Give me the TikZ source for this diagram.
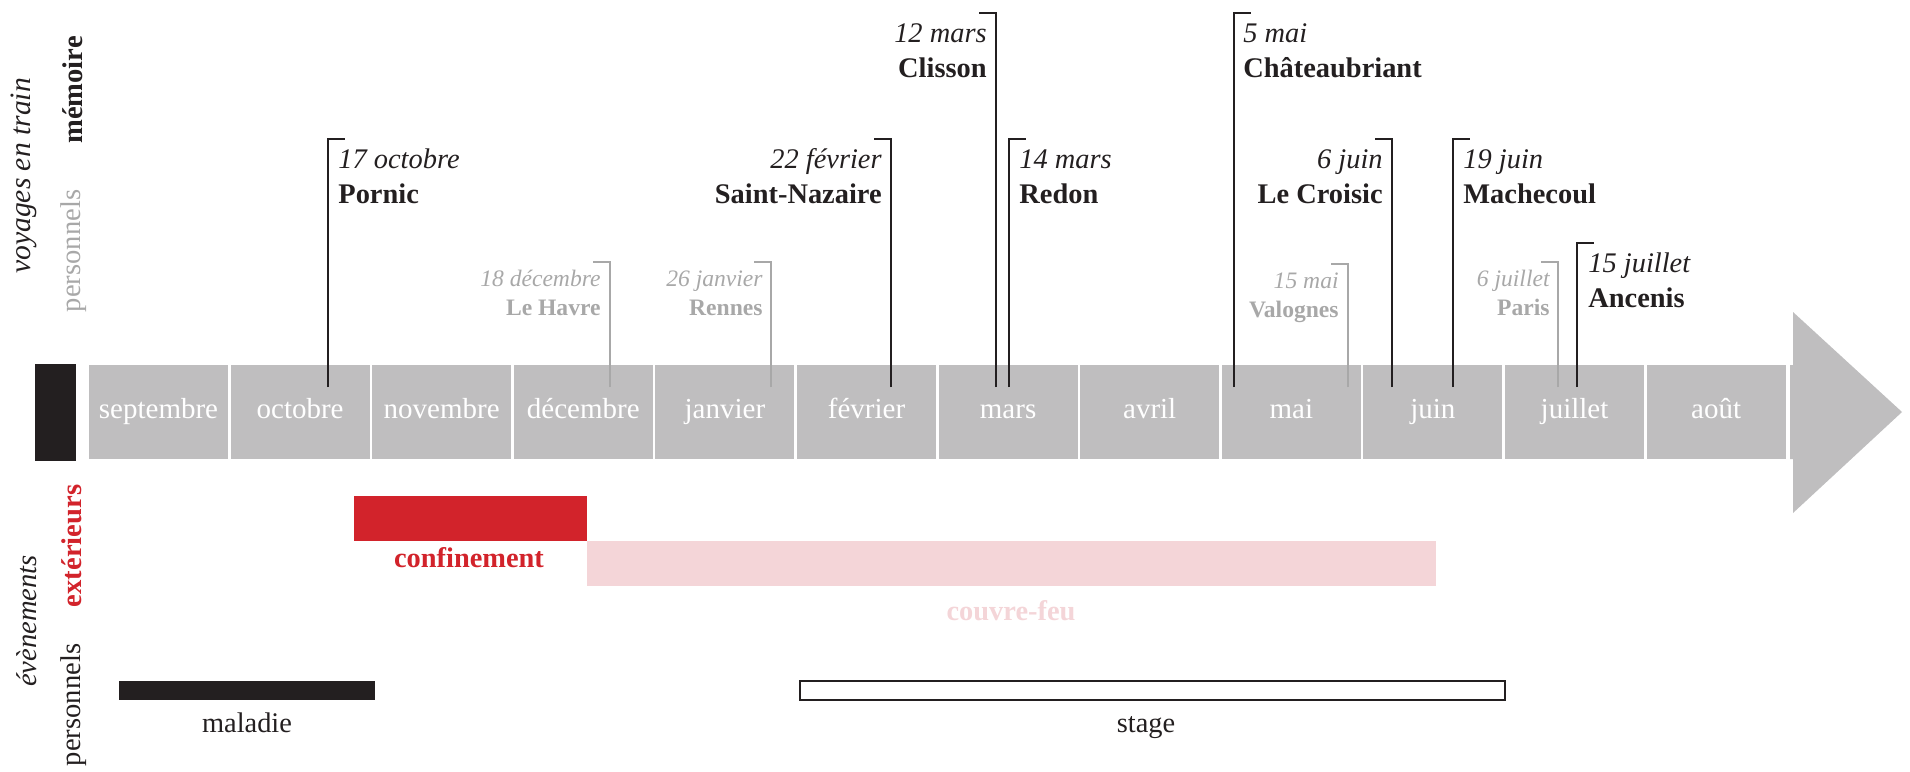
\documentclass[tikz,border=0pt]{standalone}
\usepackage{fontspec}
\setmainfont{Liberation Serif}
\definecolor{barGray}{HTML}{BFBEBF}
\definecolor{inkBlack}{HTML}{231F20}
\definecolor{softGray}{HTML}{A8A8A8}
\definecolor{alertRed}{HTML}{D2232B}
\definecolor{curfewPink}{HTML}{F4D5D8}
\begin{document}
\begin{tikzpicture}[x=0.5pt,y=-0.5pt,
    monthBox/.style={fill=barGray,text=white,minimum width=69.5pt,minimum height=47pt,inner sep=0pt,text height=8pt,text depth=2pt,font=\fontsize{14.5}{17}\selectfont},
    tripK/.style={draw=inkBlack,line width=1pt},
    tripG/.style={draw=softGray,line width=1pt},
    dateK/.style={inner sep=0pt,text=inkBlack,font=\fontsize{14.2}{17}\selectfont\itshape},
    placeK/.style={inner sep=0pt,text=inkBlack,font=\fontsize{14.2}{17}\selectfont\bfseries},
    dateG/.style={inner sep=0pt,text=softGray,font=\fontsize{11.8}{14}\selectfont\itshape},
    placeG/.style={inner sep=0pt,text=softGray,font=\fontsize{11.8}{14}\selectfont\bfseries},
    sideLbl/.style={rotate=90,anchor=base,inner sep=0pt,font=\fontsize{14.3}{17}\selectfont},
    barLbl/.style={anchor=base,inner sep=0pt,font=\fontsize{14.2}{17}\selectfont},
]
\useasboundingbox (0,0) rectangle (1910,771);
% Side headings
\node[sideLbl,font=\fontsize{14.8}{17}\selectfont\itshape,text=inkBlack] (voyH) at (31,176) {voyages en train};
\node[sideLbl,font=\fontsize{14.3}{17}\selectfont\bfseries,text=inkBlack] (memH) at (82,90) {mémoire};
\node[sideLbl,text=softGray] (persH) at (80,251) {personnels};
\node[sideLbl,font=\fontsize{14.3}{17}\selectfont\itshape,text=inkBlack] (evtH) at (36,621) {évènements};
\node[sideLbl,font=\fontsize{14.3}{17}\selectfont\bfseries,text=alertRed] (extH) at (81,546) {extérieurs};
\node[sideLbl,text=inkBlack] (perH) at (80,705) {personnels};
% Timeline
\fill[inkBlack] (35,364) rectangle (76,461);
\node[monthBox] (sep) at (158.5,412) {septembre};
\node[monthBox] (oct) at (300.1,412) {octobre};
\node[monthBox] (nov) at (441.7,412) {novembre};
\node[monthBox] (dec) at (583.3,412) {décembre};
\node[monthBox] (jan) at (724.9,412) {janvier};
\node[monthBox] (fev) at (866.5,412) {février};
\node[monthBox] (mar) at (1008.1,412) {mars};
\node[monthBox] (avr) at (1149.7,412) {avril};
\node[monthBox] (mai) at (1291.3,412) {mai};
\node[monthBox] (jun) at (1432.9,412) {juin};
\node[monthBox] (jul) at (1574.5,412) {juillet};
\node[monthBox] (aou) at (1716.1,412) {août};
\fill[barGray] (1790,365) -- (1793,365) -- (1793,312) -- (1902,412) -- (1793,513) -- (1793,459) -- (1790,459) -- cycle;
% Trips for the thesis (black)
\coordinate (pornicB) at (328,387); \coordinate (pornicT) at (328,139);
\draw[tripK] (pornicB) -- (pornicT) -- ++(17,0);
\node[dateK,anchor=base west] (pornicD) at (338,168) {17 octobre};
\node[placeK,anchor=base west] (pornicP) at (338,203) {Pornic};
\coordinate (nazB) at (891,387); \coordinate (nazT) at (891,139);
\draw[tripK] (nazB) -- (nazT) -- ++(-17,0);
\node[dateK,anchor=base east] (nazD) at (882,168) {22 février};
\node[placeK,anchor=base east] (nazP) at (882,203) {Saint-Nazaire};
\coordinate (clisB) at (996,387); \coordinate (clisT) at (996,13);
\draw[tripK] (clisB) -- (clisT) -- ++(-17,0);
\node[dateK,anchor=base east] (clisD) at (987,42) {12 mars};
\node[placeK,anchor=base east] (clisP) at (987,77) {Clisson};
\coordinate (redB) at (1009,387); \coordinate (redT) at (1009,139);
\draw[tripK] (redB) -- (redT) -- ++(17,0);
\node[dateK,anchor=base west] (redD) at (1019,168) {14 mars};
\node[placeK,anchor=base west] (redP) at (1019,203) {Redon};
\coordinate (chatB) at (1234,387); \coordinate (chatT) at (1234,13);
\draw[tripK] (chatB) -- (chatT) -- ++(17,0);
\node[dateK,anchor=base west] (chatD) at (1243,42) {5 mai};
\node[placeK,anchor=base west] (chatP) at (1243,77) {Châteaubriant};
\coordinate (croB) at (1392,387); \coordinate (croT) at (1392,139);
\draw[tripK] (croB) -- (croT) -- ++(-17,0);
\node[dateK,anchor=base east] (croD) at (1383,168) {6 juin};
\node[placeK,anchor=base east] (croP) at (1383,203) {Le Croisic};
\coordinate (machB) at (1453,387); \coordinate (machT) at (1453,139);
\draw[tripK] (machB) -- (machT) -- ++(17,0);
\node[dateK,anchor=base west] (machD) at (1463,168) {19 juin};
\node[placeK,anchor=base west] (machP) at (1463,203) {Machecoul};
\coordinate (ancB) at (1577,387); \coordinate (ancT) at (1577,243);
\draw[tripK] (ancB) -- (ancT) -- ++(17,0);
\node[dateK,anchor=base west] (ancD) at (1588,272) {15 juillet};
\node[placeK,anchor=base west] (ancP) at (1588,307) {Ancenis};
% Personal trips (gray)
\coordinate (havB) at (610,387); \coordinate (havT) at (610,262);
\draw[tripG] (havB) -- (havT) -- ++(-17,0);
\node[dateG,anchor=base east] (havD) at (601,286) {18 décembre};
\node[placeG,anchor=base east] (havP) at (601,315) {Le Havre};
\coordinate (renB) at (771,387); \coordinate (renT) at (771,262);
\draw[tripG] (renB) -- (renT) -- ++(-17,0);
\node[dateG,anchor=base east] (renD) at (763,286) {26 janvier};
\node[placeG,anchor=base east] (renP) at (763,315) {Rennes};
\coordinate (valB) at (1348,387); \coordinate (valT) at (1348,264);
\draw[tripG] (valB) -- (valT) -- ++(-17,0);
\node[dateG,anchor=base east] (valD) at (1339,288) {15 mai};
\node[placeG,anchor=base east] (valP) at (1339,317) {Valognes};
\coordinate (parB) at (1558,387); \coordinate (parT) at (1558,262);
\draw[tripG] (parB) -- (parT) -- ++(-17,0);
\node[dateG,anchor=base east] (parD) at (1550,286) {6 juillet};
\node[placeG,anchor=base east] (parP) at (1550,315) {Paris};
% Outside events
\fill[alertRed] (354,496) rectangle (587,541);
\node[barLbl,font=\fontsize{14.2}{17}\selectfont\bfseries,text=alertRed] (confL) at (469,567) {confinement};
\fill[curfewPink] (587,541) rectangle (1436,586);
\node[barLbl,font=\fontsize{14.2}{17}\selectfont\bfseries,text=curfewPink] (couvL) at (1011,620) {couvre-feu};
% Personal events
\fill[inkBlack] (119,681) rectangle (375,700);
\node[barLbl,text=inkBlack] (malL) at (247,732) {maladie};
\draw[inkBlack,line width=1.25pt] (800,681) rectangle (1505,700);
\node[barLbl,text=inkBlack] (stgL) at (1146,732) {stage};
\end{tikzpicture}
\end{document}
